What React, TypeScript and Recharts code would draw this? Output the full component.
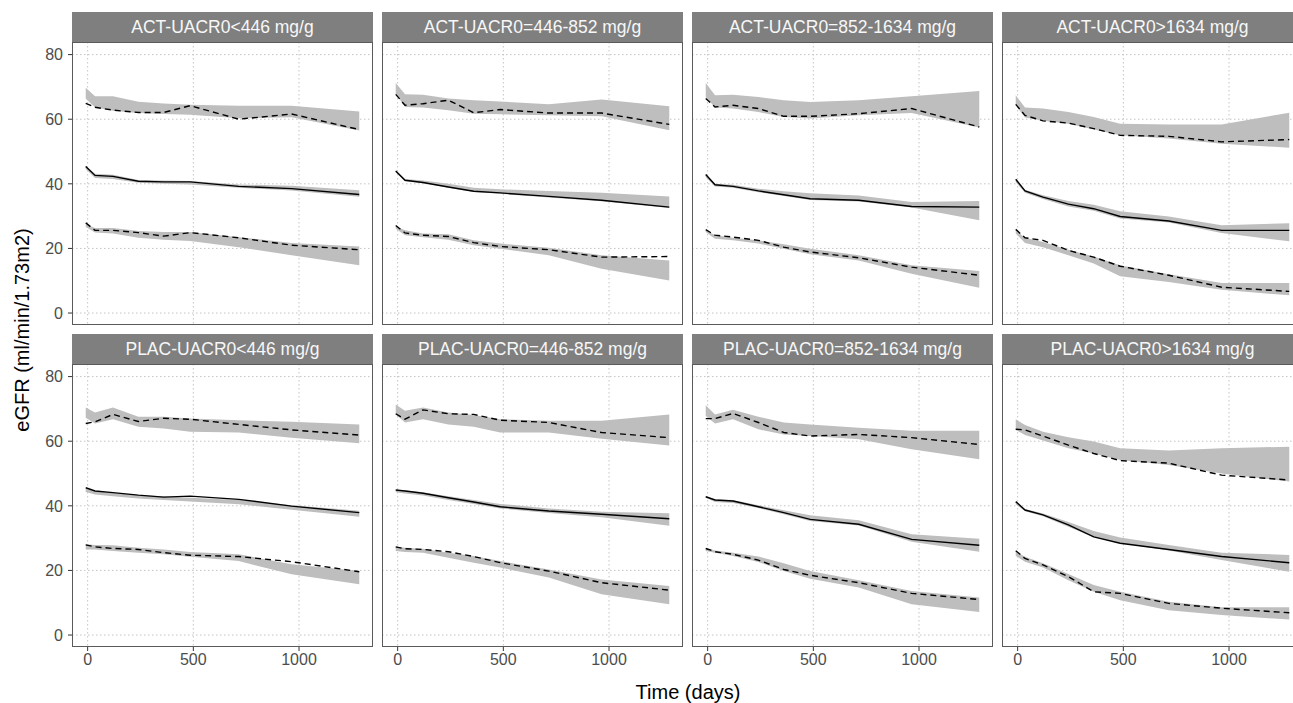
import React from "react";
import { ComposedChart, Area, Line, XAxis, YAxis, CartesianGrid } from "recharts";

// Time bins (days)
const TIMES = [-9, 35, 120, 240, 360, 485, 715, 965, 1285];

const PANEL_TITLES = [
  "ACT-UACR0<446 mg/g",
  "ACT-UACR0=446-852 mg/g",
  "ACT-UACR0=852-1634 mg/g",
  "ACT-UACR0>1634 mg/g",
  "PLAC-UACR0<446 mg/g",
  "PLAC-UACR0=446-852 mg/g",
  "PLAC-UACR0=852-1634 mg/g",
  "PLAC-UACR0>1634 mg/g",
];

const X_TICKS = [0, 500, 1000];
const Y_TICKS = [0, 20, 40, 60, 80];

// Upper percentile: simulated band (hi / lo) and observed dashed line, one row per panel
const UPPER_HI: number[][] = [
  [69.7, 67.1, 67.1, 65.4, 64.9, 64.5, 64.2, 64.2, 62.4],
  [71.2, 67.7, 67.6, 66.4, 65.9, 65.5, 64.6, 66.1, 64.0],
  [71.2, 67.4, 67.6, 66.9, 65.9, 65.3, 65.9, 67.1, 68.7],
  [67.4, 63.6, 63.3, 62.2, 60.7, 58.6, 58.4, 58.4, 62.0],
  [70.4, 68.9, 70.4, 67.6, 67.6, 67.0, 66.5, 66.0, 65.2],
  [71.4, 69.4, 70.4, 68.9, 68.1, 66.8, 66.3, 66.3, 68.3],
  [71.1, 68.3, 69.7, 67.6, 65.8, 65.2, 64.2, 63.2, 63.2],
  [66.8, 65.0, 62.9, 61.2, 59.9, 57.8, 57.1, 57.8, 58.3],
];
const UPPER_LO: number[][] = [
  [66.3, 63.7, 62.6, 61.9, 61.6, 61.4, 60.3, 60.6, 56.5],
  [67.9, 63.8, 63.6, 62.8, 61.7, 61.5, 61.2, 60.9, 56.6],
  [66.9, 63.6, 63.3, 62.2, 60.7, 60.2, 61.2, 61.9, 57.4],
  [64.3, 60.5, 59.5, 58.6, 56.8, 55.0, 54.0, 52.4, 51.2],
  [67.3, 65.5, 66.8, 64.5, 63.9, 62.9, 62.7, 61.1, 59.4],
  [68.3, 65.8, 66.8, 65.2, 64.5, 62.7, 62.7, 60.8, 58.7],
  [67.8, 65.5, 66.8, 63.7, 62.1, 61.6, 60.6, 57.5, 54.4],
  [63.5, 61.9, 60.2, 57.8, 56.2, 54.2, 52.6, 50.0, 47.5],
];
const UPPER_OBS: number[][] = [
  [64.9, 63.7, 62.8, 62.1, 62.1, 64.2, 60.0, 61.6, 56.8],
  [67.7, 64.3, 64.8, 65.9, 62.0, 63.0, 61.9, 61.9, 58.4],
  [66.4, 63.8, 64.3, 63.3, 60.9, 60.9, 61.7, 63.3, 57.6],
  [64.6, 61.2, 59.5, 58.8, 57.1, 55.0, 54.7, 53.0, 53.7],
  [65.5, 66.0, 68.3, 66.1, 67.1, 66.8, 65.2, 63.5, 61.9],
  [68.5, 66.8, 69.7, 68.5, 68.3, 66.5, 65.8, 62.7, 61.1],
  [67.0, 67.0, 68.6, 65.8, 62.7, 61.6, 62.1, 61.1, 59.0],
  [63.7, 63.5, 61.6, 58.8, 56.2, 54.0, 53.2, 49.5, 48.0],
];

// Median
const MED_HI: number[][] = [
  [45.6, 43.1, 42.8, 41.2, 41.0, 40.9, 39.8, 39.4, 38.0],
  [44.2, 41.5, 41.0, 40.0, 38.8, 38.3, 37.8, 37.2, 36.1],
  [43.0, 40.0, 39.7, 38.5, 37.7, 37.1, 36.4, 34.4, 34.7],
  [41.2, 38.2, 36.5, 34.7, 33.5, 31.5, 29.9, 27.2, 27.8],
  [45.3, 44.5, 44.0, 43.3, 43.0, 42.5, 41.8, 40.2, 38.5],
  [45.0, 44.8, 44.2, 43.0, 41.8, 40.6, 39.2, 38.2, 37.7],
  [43.0, 42.0, 41.8, 40.2, 38.6, 37.1, 35.5, 31.2, 29.8],
  [41.0, 39.0, 37.6, 35.0, 32.2, 30.2, 27.9, 25.5, 24.8],
];
const MED_LO: number[][] = [
  [44.6, 41.8, 41.5, 40.3, 40.0, 39.8, 38.8, 37.9, 36.0],
  [43.5, 40.8, 40.2, 38.8, 37.5, 36.9, 35.8, 34.6, 32.5],
  [42.0, 39.2, 38.8, 37.4, 36.2, 35.0, 34.5, 32.7, 28.7],
  [40.5, 37.2, 35.3, 33.0, 31.7, 29.3, 28.0, 24.8, 22.2],
  [44.3, 43.5, 43.0, 42.3, 41.8, 41.3, 40.5, 38.8, 36.6],
  [44.2, 43.8, 43.2, 41.8, 40.6, 39.2, 37.8, 36.5, 33.8],
  [42.5, 41.2, 40.9, 39.3, 37.4, 35.3, 33.9, 28.9, 25.8],
  [40.5, 38.3, 36.8, 33.5, 30.3, 28.5, 26.2, 23.2, 19.6],
];
const MED_OBS: number[][] = [
  [45.4, 42.6, 42.3, 40.8, 40.6, 40.6, 39.2, 38.5, 36.7],
  [44.0, 41.1, 40.4, 39.0, 37.7, 37.2, 36.1, 34.9, 32.8],
  [42.9, 39.7, 39.2, 37.8, 36.6, 35.4, 34.9, 33.0, 32.8],
  [41.4, 37.8, 35.9, 33.7, 32.3, 29.9, 28.5, 25.6, 25.6],
  [45.6, 44.6, 44.1, 43.3, 42.7, 43.0, 42.0, 39.9, 37.9],
  [44.9, 44.6, 43.9, 42.5, 41.2, 39.7, 38.4, 37.4, 36.0],
  [42.8, 41.8, 41.5, 39.7, 37.9, 35.8, 34.3, 29.6, 27.8],
  [41.3, 38.7, 37.2, 34.1, 30.4, 28.4, 26.5, 24.3, 22.4],
];

// Lower percentile
const LOWER_HI: number[][] = [
  [27.5, 26.3, 26.3, 25.4, 25.1, 25.1, 23.5, 21.7, 20.6],
  [26.8, 25.6, 24.6, 24.4, 22.5, 21.5, 20.2, 17.9, 16.3],
  [25.6, 24.1, 23.3, 22.5, 21.3, 19.9, 17.9, 14.8, 13.0],
  [25.6, 23.3, 22.0, 19.6, 17.5, 14.8, 12.0, 9.3, 9.3],
  [28.1, 27.9, 27.8, 27.0, 26.5, 25.7, 25.0, 21.9, 19.8],
  [27.4, 27.0, 26.7, 25.5, 24.5, 22.9, 20.3, 17.2, 15.2],
  [27.0, 26.2, 25.5, 24.3, 22.2, 19.8, 17.0, 13.6, 11.6],
  [25.8, 24.2, 22.2, 18.9, 15.5, 13.4, 10.3, 8.6, 8.6],
];
const LOWER_LO: number[][] = [
  [26.6, 24.9, 24.6, 23.3, 22.7, 22.3, 20.4, 17.9, 14.8],
  [26.1, 24.1, 23.5, 22.7, 21.0, 19.9, 17.9, 13.7, 10.1],
  [25.1, 23.0, 22.5, 21.5, 19.9, 18.2, 16.3, 12.2, 7.8],
  [24.6, 21.7, 20.4, 17.9, 15.3, 11.4, 9.6, 7.2, 5.5],
  [26.5, 26.5, 26.0, 25.5, 25.0, 24.2, 22.9, 18.8, 15.7],
  [26.0, 25.7, 25.5, 23.9, 22.4, 20.9, 17.8, 12.6, 9.5],
  [26.0, 25.5, 24.5, 22.6, 19.8, 17.4, 14.7, 9.5, 7.1],
  [24.5, 22.7, 20.9, 17.0, 13.4, 10.8, 7.7, 6.2, 4.8],
];
const LOWER_OBS: number[][] = [
  [27.9, 25.6, 25.6, 24.9, 23.8, 24.9, 23.3, 21.0, 19.6],
  [27.1, 24.8, 24.1, 23.7, 21.8, 20.6, 19.6, 17.3, 17.5],
  [25.8, 24.1, 23.5, 22.5, 20.4, 18.9, 17.1, 14.2, 11.7],
  [25.9, 23.3, 22.5, 19.4, 17.3, 14.5, 11.7, 8.0, 6.7],
  [27.9, 27.3, 26.8, 26.5, 25.5, 24.7, 24.3, 22.7, 19.6],
  [27.3, 26.7, 26.5, 25.8, 24.3, 22.4, 19.8, 16.2, 13.9],
  [26.8, 25.8, 25.0, 23.2, 20.3, 18.5, 16.2, 12.9, 11.0],
  [26.1, 23.7, 21.7, 18.1, 13.4, 12.9, 9.8, 8.3, 6.9],
];

const FONT = "'Liberation Sans', Arial, Helvetica, sans-serif";
const PANEL_W = 301;
const PLOT_H = 283;
const STRIP_H = 30;
const COL_PITCH = 310;
const ROW_PITCH = 322;
const LEFT0 = 72;
const TOP0 = 12;
const YAXIS_W = 40;
const XAXIS_H = 30;
const BAND_FILL = "#bebebe";

function buildRows(p: number) {
  return TIMES.map((t, i) => ({
    time: t,
    upBand: [UPPER_LO[p][i], UPPER_HI[p][i]],
    medBand: [MED_LO[p][i], MED_HI[p][i]],
    loBand: [LOWER_LO[p][i], LOWER_HI[p][i]],
    upObs: UPPER_OBS[p][i],
    medObs: MED_OBS[p][i],
    loObs: LOWER_OBS[p][i],
  }));
}

function Panel({ idx }: { idx: number }) {
  const row = Math.floor(idx / 4);
  const col = idx % 4;
  const left = LEFT0 + col * COL_PITCH;
  const stripTop = TOP0 + row * ROW_PITCH;
  const plotTop = stripTop + STRIP_H;
  const showY = col === 0;
  const showX = row === 1;
  const chartW = PANEL_W + (showY ? YAXIS_W : 0);
  const chartH = PLOT_H + (showX ? XAXIS_H : 0);
  const data = buildRows(idx);
  const tickStyle = { fill: "#4d4d4d", fontSize: 16, fontFamily: FONT, style: { fontSize: 16 } };
  return (
    <>
      <div
        style={{
          position: "absolute",
          left,
          top: stripTop,
          width: PANEL_W,
          height: STRIP_H,
          background: "#7f7f7f",
          color: "#f7f7f7",
          fontSize: 17.5,
          fontFamily: FONT,
          lineHeight: STRIP_H + "px",
          textAlign: "center",
          whiteSpace: "nowrap",
        }}
      >
        {PANEL_TITLES[idx]}
      </div>
      <div
        style={{
          position: "absolute",
          left: left - (showY ? YAXIS_W : 0),
          top: plotTop,
          width: chartW,
          height: chartH,
          fontSize: 16,
        }}
      >
        <ComposedChart
          width={chartW}
          height={chartH}
          data={data}
          margin={{ top: 0, right: 0, bottom: 0, left: 0 }}
        >
          <CartesianGrid
            stroke="#c4c4c4"
            strokeDasharray="1.5 2.5"
            horizontalValues={Y_TICKS}
            verticalValues={X_TICKS}
          />
          <XAxis
            dataKey="time"
            type="number"
            domain={[-74, 1350]}
            ticks={X_TICKS}
            allowDataOverflow
            hide={!showX}
            height={XAXIS_H}
            axisLine={false}
            tickSize={4}
            tickMargin={3}
            tickLine={{ stroke: "#333333" }}
            tick={tickStyle}
            fontSize={16}
            interval={0}
          />
          <YAxis
            type="number"
            domain={[-3.7, 83.9]}
            ticks={Y_TICKS}
            allowDataOverflow
            hide={!showY}
            width={YAXIS_W}
            axisLine={false}
            tickSize={4}
            tickMargin={5}
            tickLine={{ stroke: "#333333" }}
            tick={tickStyle}
            fontSize={16}
            interval={0}
          />
          <Area dataKey="upBand" type="linear" stroke="none" fill={BAND_FILL} fillOpacity={1} isAnimationActive={false} />
          <Area dataKey="medBand" type="linear" stroke="none" fill={BAND_FILL} fillOpacity={1} isAnimationActive={false} />
          <Area dataKey="loBand" type="linear" stroke="none" fill={BAND_FILL} fillOpacity={1} isAnimationActive={false} />
          <Line dataKey="upObs" type="linear" stroke="#000" strokeWidth={1.4} strokeDasharray="6 4" dot={false} activeDot={false} isAnimationActive={false} />
          <Line dataKey="medObs" type="linear" stroke="#000" strokeWidth={1.4} dot={false} activeDot={false} isAnimationActive={false} />
          <Line dataKey="loObs" type="linear" stroke="#000" strokeWidth={1.4} strokeDasharray="6 4" dot={false} activeDot={false} isAnimationActive={false} />
        </ComposedChart>
      </div>
      <div
        style={{
          position: "absolute",
          left,
          top: plotTop,
          width: PANEL_W,
          height: PLOT_H,
          boxSizing: "border-box",
          border: "1.3px solid #5a5a5a",
          pointerEvents: "none",
        }}
      />
    </>
  );
}

export default function App() {
  return (
    <div
      style={{
        position: "absolute",
        left: 0,
        top: 0,
        width: 1293,
        height: 703,
        overflow: "hidden",
        background: "#ffffff",
        fontFamily: FONT,
      }}
    >
      {PANEL_TITLES.map((_, i) => (
        <Panel key={i} idx={i} />
      ))}
      <div
        style={{
          position: "absolute",
          left: 22,
          top: 330,
          transform: "translate(-50%, -50%) rotate(-90deg)",
          fontSize: 20,
          color: "#000",
          whiteSpace: "nowrap",
        }}
      >
        eGFR (ml/min/1.73m2)
      </div>
      <div
        style={{
          position: "absolute",
          left: 688,
          top: 692,
          transform: "translate(-50%, -50%)",
          fontSize: 20,
          color: "#000",
          whiteSpace: "nowrap",
        }}
      >
        Time (days)
      </div>
    </div>
  );
}
